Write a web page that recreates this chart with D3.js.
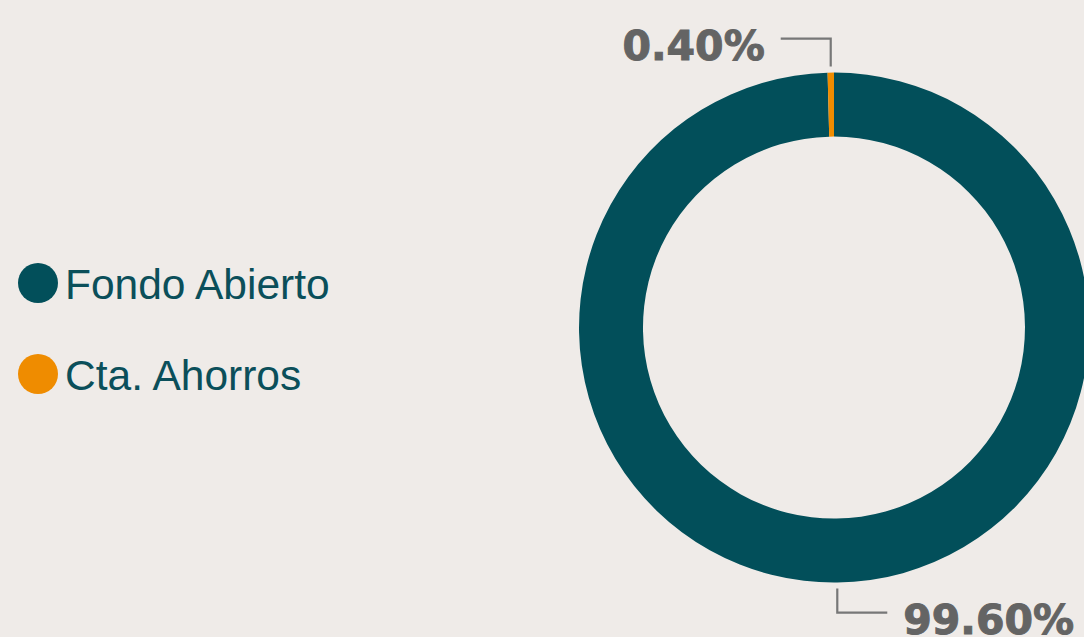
<!DOCTYPE html>
<html>
<head>
<meta charset="utf-8">
<script src="https://cdn.jsdelivr.net/npm/d3@7"></script>
<style>
  html, body { margin: 0; padding: 0; background: #efebe8; }
  svg { display: block; }
</style>
</head>
<body>
<div id="chart"></div>
<script>
var categories = ["Fondo Abierto", "Cta. Ahorros"];
var values = [99.60, 0.40];
var labels = ["99.60%", "0.40%"];
var colors = ["#024f5a", "#ef8c00"];

var width = 1084, height = 637,
  cx = 834, cy = 327.6,
  outerR = 255, innerR = 191;

var svg = d3.select("#chart").append("svg")
  .attr("width", width)
  .attr("height", height);

svg.append("rect").attr("width", width).attr("height", height).attr("fill", "#efebe8");

var data = categories.map(function (c, i) {
  return { name: c, value: values[i], label: labels[i], color: colors[i] };
});

var pie = d3.pie().sort(null).value(function (d) { return d.value; });
var arc = d3.arc().innerRadius(innerR).outerRadius(outerR);
var arcs = pie(data);

var g = svg.append("g").attr("transform", "translate(" + cx + "," + cy + ")");

g.selectAll("path.slice")
  .data(arcs)
  .enter().append("path")
  .attr("class", "slice")
  .attr("d", arc)
  .attr("fill", function (d) { return d.data.color; });

// leader lines and labels
arcs.forEach(function (d) {
  var a = (d.startAngle + d.endAngle) / 2;
  var top = Math.cos(a) > 0;
  var r0 = outerR + 6;
  var x0 = r0 * Math.sin(a), y0 = -r0 * Math.cos(a);
  var yElbow = top ? -(outerR + 34) : (outerR + 30);
  var dir = top ? -1 : 1;
  var x1 = x0 + dir * 50;
  g.append("path")
    .attr("d", "M" + x0 + "," + y0 + "L" + x0 + "," + yElbow + "L" + x1 + "," + yElbow)
    .attr("fill", "none")
    .attr("stroke", "#777777")
    .attr("stroke-width", 2.2);
  g.append("text")
    .attr("x", x1 + dir * 16)
    .attr("y", yElbow + 21)
    .attr("text-anchor", top ? "end" : "start")
    .attr("font-family", "DejaVu Sans, Verdana, sans-serif")
    .attr("font-weight", "bold")
    .attr("font-size", 41)
    .attr("fill", "#646464")
    .attr("stroke", "#646464")
    .attr("stroke-width", 1)
    .text(d.data.label);
});

// legend
var legend = svg.append("g").attr("class", "legend");
var items = legend.selectAll("g")
  .data(data)
  .enter().append("g")
  .attr("transform", function (d, i) { return "translate(38," + (283 + i * 91) + ")"; });

items.append("circle")
  .attr("r", 20)
  .attr("fill", function (d) { return d.color; });

items.append("text")
  .attr("x", 27)
  .attr("y", 16)
  .attr("font-family", "Liberation Sans, Arial, sans-serif")
  .attr("font-size", 42.5)
  .attr("fill", "#0b4f5a")
  .text(function (d) { return d.name; });
</script>
</body>
</html>
